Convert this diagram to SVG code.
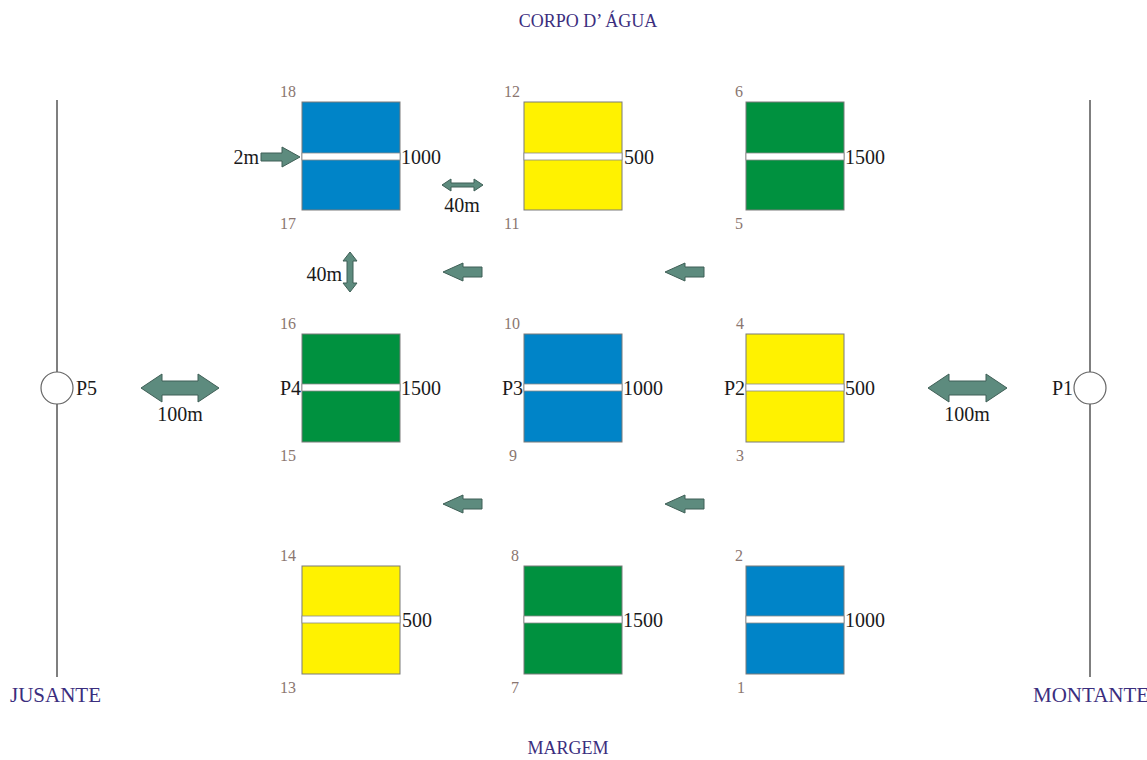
<svg xmlns="http://www.w3.org/2000/svg" width="1147" height="760" viewBox="0 0 1147 760">
<defs>
<style>
.t{font-family:"Liberation Serif","Times New Roman",serif;font-size:20px;fill:#1a1a1a}
.n{font-family:"Liberation Serif","Times New Roman",serif;font-size:16px;fill:#8a7670}
.h{font-family:"Liberation Serif","Times New Roman",serif;font-size:18px;fill:#3b2e7e}
.hb{font-family:"Liberation Serif","Times New Roman",serif;font-size:21px;fill:#3b2e7e}
.box{stroke:#7a7a7a;stroke-width:1}
.blue{fill:#0084c8}.green{fill:#00913f}.yellow{fill:#fff200}
.band{fill:#ffffff;stroke:#8a8a8a;stroke-width:0.8}
.arr{fill:#5d8b7e;stroke:#3f5f56;stroke-width:1}
.line{stroke:#555;stroke-width:1.5;fill:none}
.circ{fill:#fff;stroke:#666;stroke-width:1.2}
</style>
</defs>
<rect width="1147" height="760" fill="#fff"/>
<g id="labels">
<text class="h" x="588" y="27" text-anchor="middle">CORPO D’ ÁGUA</text>
<text class="h" x="568" y="754" text-anchor="middle">MARGEM</text>
<text class="hb" x="10" y="702">JUSANTE</text>
<text class="hb" x="1033" y="702">MONTANTE</text>
</g>
<g id="P5">
<line class="line" x1="57" y1="100" x2="57" y2="677"/>
<circle class="circ" cx="57" cy="388" r="16"/>
<text class="t" x="76" y="395">P5</text>
</g>
<g id="P1">
<line class="line" x1="1090" y1="100" x2="1090" y2="677"/>
<circle class="circ" cx="1090" cy="388" r="16"/>
<text class="t" x="1073" y="395" text-anchor="end">P1</text>
</g>
<g id="plot18-17">
<rect class="box blue" x="302" y="102" width="98" height="108"/>
<rect class="band" x="302" y="153" width="98" height="7"/>
<text class="t" x="401" y="164">1000</text>
<text class="n" x="280" y="97">18</text><text class="n" x="280" y="229">17</text>
</g>
<g id="plot12-11">
<rect class="box yellow" x="524" y="102" width="98" height="108"/>
<rect class="band" x="524" y="153" width="98" height="7"/>
<text class="t" x="624" y="164">500</text>
<text class="n" x="504" y="97">12</text><text class="n" x="504" y="229">11</text>
</g>
<g id="plot6-5">
<rect class="box green" x="746" y="102" width="98" height="108"/>
<rect class="band" x="746" y="153" width="98" height="7"/>
<text class="t" x="845" y="164">1500</text>
<text class="n" x="735" y="97">6</text><text class="n" x="735" y="229">5</text>
</g>
<g id="plot16-15">
<rect class="box green" x="302" y="334" width="98" height="108"/>
<rect class="band" x="302" y="384" width="98" height="7"/>
<text class="t" x="401" y="395">1500</text>
<text class="t" x="301" y="395" text-anchor="end">P4</text>
<text class="n" x="280" y="329">16</text><text class="n" x="280" y="461">15</text>
</g>
<g id="plot10-9">
<rect class="box blue" x="524" y="334" width="98" height="108"/>
<rect class="band" x="524" y="384" width="98" height="7"/>
<text class="t" x="623" y="395">1000</text>
<text class="t" x="523" y="395" text-anchor="end">P3</text>
<text class="n" x="504" y="329">10</text><text class="n" x="509" y="461">9</text>
</g>
<g id="plot4-3">
<rect class="box yellow" x="746" y="334" width="98" height="108"/>
<rect class="band" x="746" y="384" width="98" height="7"/>
<text class="t" x="845" y="395">500</text>
<text class="t" x="745" y="395" text-anchor="end">P2</text>
<text class="n" x="736" y="329">4</text><text class="n" x="736" y="461">3</text>
</g>
<g id="plot14-13">
<rect class="box yellow" x="302" y="566" width="98" height="108"/>
<rect class="band" x="302" y="616" width="98" height="7"/>
<text class="t" x="402" y="627">500</text>
<text class="n" x="280" y="561">14</text><text class="n" x="280" y="693">13</text>
</g>
<g id="plot8-7">
<rect class="box green" x="524" y="566" width="98" height="108"/>
<rect class="band" x="524" y="616" width="98" height="7"/>
<text class="t" x="623" y="627">1500</text>
<text class="n" x="511" y="561">8</text><text class="n" x="511" y="693">7</text>
</g>
<g id="plot2-1">
<rect class="box blue" x="746" y="566" width="98" height="108"/>
<rect class="band" x="746" y="616" width="98" height="7"/>
<text class="t" x="845" y="627">1000</text>
<text class="n" x="735" y="561">2</text><text class="n" x="737" y="693">1</text>
</g>
<g id="connectors">
<path class="arr" d="M261,153 H282 V147 L300,157 L282,167 V161 H261 Z"/>
<text class="t" x="259" y="164" text-anchor="end">2m</text>
<path class="arr" d="M442,185 L451,179 V183 H474 V179 L483,185 L474,191 V187 H451 V191 Z"/>
<text class="t" x="462" y="212" text-anchor="middle">40m</text>
<path class="arr" d="M350,252 L357,261 H353 V283 H357 L350,292 L343,283 H347 V261 H343 Z"/>
<text class="t" x="342" y="281" text-anchor="end">40m</text>
<path class="arr" d="M443,272 L463,263 V267 H482 V277 H463 V281 Z"/>
<path class="arr" d="M665,272 L685,263 V267 H704 V277 H685 V281 Z"/>
<path class="arr" d="M443,504 L463,495 V499 H482 V509 H463 V513 Z"/>
<path class="arr" d="M665,504 L685,495 V499 H704 V509 H685 V513 Z"/>
<path class="arr" d="M141,388 L162,374 V381 H198 V374 L219,388 L198,402 V395 H162 V402 Z"/>
<text class="t" x="180" y="421" text-anchor="middle">100m</text>
<path class="arr" d="M928,388 L949,374 V381 H986 V374 L1007,388 L986,402 V395 H949 V402 Z"/>
<text class="t" x="967" y="421" text-anchor="middle">100m</text>
</g>
</svg>
